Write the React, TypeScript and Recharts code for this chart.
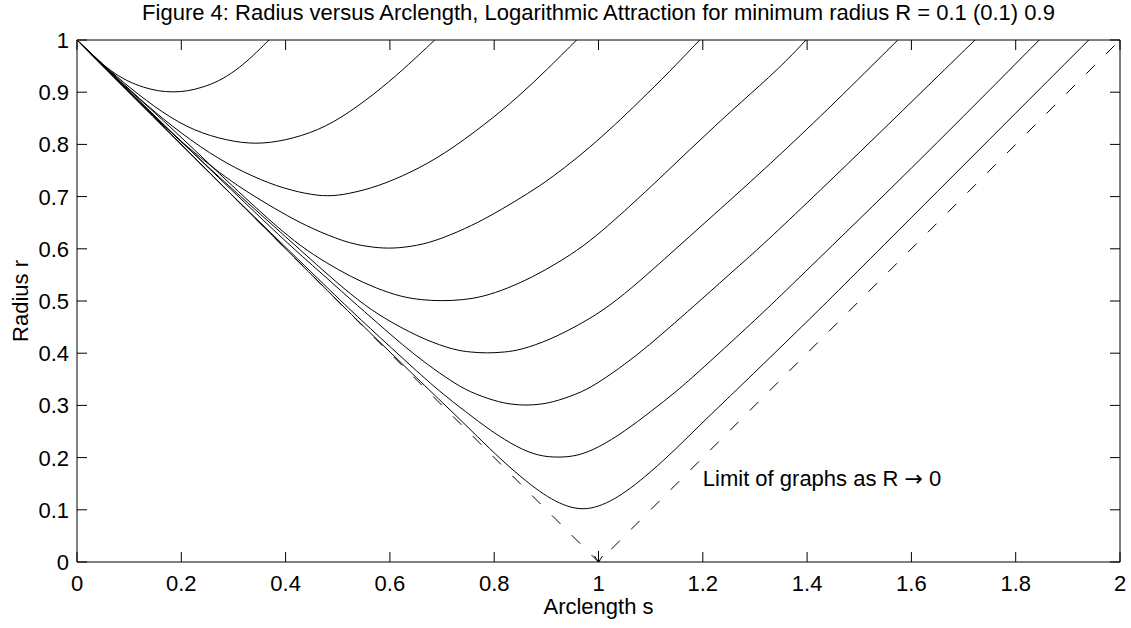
import { LineChart, Line, XAxis, YAxis, ReferenceDot, Label } from 'recharts';

const FONT = '"Liberation Sans", Arial, Helvetica, sans-serif';
const FONT_SIZE = 22;
const TICK_LEN = 10;

const TITLE = 'Figure 4: Radius versus Arclength, Logarithmic Attraction for minimum radius R = 0.1 (0.1) 0.9';
const X_LABEL = 'Arclength s';
const Y_LABEL = 'Radius r';
const NOTE_HEAD = 'Limit of graphs as R ';
const NOTE_ARROW = '\u2192';
const NOTE_TAIL = ' 0';

const X_TICKS = [0, 0.2, 0.4, 0.6, 0.8, 1, 1.2, 1.4, 1.6, 1.8, 2];
const Y_TICKS = [0, 0.1, 0.2, 0.3, 0.4, 0.5, 0.6, 0.7, 0.8, 0.9, 1];

// [arclength s, radius r], one list per minimum radius R
const CURVE_R09 = [
  [0, 1], [0.032, 0.968], [0.064, 0.941], [0.096, 0.921], [0.128, 0.909], [0.156, 0.902],
  [0.184, 0.9], [0.212, 0.902], [0.24, 0.909], [0.272, 0.921], [0.304, 0.941], [0.336, 0.968], [0.368, 1],
];
const CURVE_R08 = [
  [0, 1], [0.05, 0.953], [0.1, 0.909], [0.166, 0.859], [0.224, 0.826], [0.288, 0.807], [0.343, 0.8],
  [0.398, 0.807], [0.462, 0.826], [0.52, 0.859], [0.586, 0.909], [0.636, 0.953], [0.686, 1],
];
const CURVE_R07 = [
  [0, 1], [0.06, 0.943], [0.12, 0.887], [0.18, 0.836], [0.256, 0.781], [0.32, 0.746], [0.384, 0.719],
  [0.44, 0.705], [0.481, 0.7], [0.52, 0.705], [0.576, 0.719], [0.64, 0.746], [0.704, 0.781],
  [0.782, 0.838], [0.845, 0.89], [0.903, 0.945], [0.958, 1],
];
const CURVE_R06 = [
  [0, 1], [0.061, 0.938], [0.117, 0.883], [0.166, 0.836], [0.213, 0.794], [0.261, 0.755], [0.309, 0.72],
  [0.354, 0.692], [0.405, 0.662], [0.45, 0.639], [0.513, 0.613], [0.556, 0.604], [0.598, 0.6],
  [0.64, 0.604], [0.683, 0.613], [0.746, 0.639], [0.791, 0.662], [0.842, 0.692], [0.887, 0.72],
  [0.935, 0.755], [0.983, 0.794], [1.03, 0.836], [1.079, 0.883], [1.135, 0.938], [1.194, 1],
];
const CURVE_R05 = [
  [0, 1], [0.053, 0.946], [0.13, 0.878], [0.178, 0.834], [0.226, 0.789], [0.274, 0.743], [0.321, 0.699],
  [0.379, 0.646], [0.43, 0.604], [0.478, 0.573], [0.526, 0.546], [0.574, 0.524], [0.622, 0.508],
  [0.66, 0.502], [0.7, 0.5], [0.74, 0.502], [0.778, 0.508], [0.826, 0.524], [0.874, 0.546],
  [0.922, 0.573], [0.97, 0.604], [1.021, 0.646], [1.079, 0.699], [1.126, 0.743], [1.174, 0.789],
  [1.222, 0.834], [1.27, 0.878], [1.347, 0.946], [1.398, 1],
];
const CURVE_R04 = [
  [0, 1], [0.124, 0.877], [0.227, 0.779], [0.304, 0.709], [0.352, 0.666], [0.4, 0.623], [0.448, 0.58],
  [0.495, 0.538], [0.553, 0.49], [0.604, 0.458], [0.668, 0.425], [0.724, 0.406], [0.754, 0.402],
  [0.787, 0.4], [0.82, 0.402], [0.85, 0.406], [0.906, 0.425], [0.97, 0.458], [1.021, 0.49],
  [1.079, 0.538], [1.126, 0.58], [1.174, 0.623], [1.222, 0.666], [1.27, 0.709], [1.347, 0.779],
  [1.45, 0.877], [1.574, 1],
];
const CURVE_R03 = [
  [0, 1], [0.112, 0.891], [0.222, 0.784], [0.322, 0.688], [0.413, 0.602], [0.452, 0.568], [0.528, 0.5],
  [0.576, 0.458], [0.624, 0.416], [0.672, 0.378], [0.72, 0.345], [0.752, 0.326], [0.802, 0.308],
  [0.832, 0.302], [0.861, 0.3], [0.89, 0.302], [0.92, 0.308], [0.97, 0.326], [1.002, 0.345],
  [1.05, 0.378], [1.098, 0.416], [1.146, 0.458], [1.194, 0.5], [1.27, 0.568], [1.309, 0.602],
  [1.4, 0.688], [1.5, 0.784], [1.61, 0.891], [1.722, 1],
];
const CURVE_R02 = [
  [0, 1], [0.095, 0.904], [0.195, 0.804], [0.295, 0.705], [0.395, 0.608], [0.504, 0.502], [0.555, 0.454],
  [0.651, 0.366], [0.695, 0.327], [0.745, 0.288], [0.795, 0.25], [0.845, 0.219], [0.885, 0.203],
  [0.9225, 0.2], [0.96, 0.203], [1.0, 0.219], [1.05, 0.25], [1.1, 0.288], [1.15, 0.327], [1.194, 0.366],
  [1.29, 0.454], [1.341, 0.502], [1.45, 0.608], [1.55, 0.705], [1.65, 0.804], [1.75, 0.904], [1.845, 1],
];
const CURVE_R01 = [
  [0, 1], [0.09, 0.91], [0.19, 0.81], [0.29, 0.71], [0.39, 0.61], [0.5, 0.5], [0.554, 0.447],
  [0.65, 0.354], [0.7, 0.306], [0.746, 0.262], [0.79, 0.218], [0.84, 0.172], [0.88, 0.14],
  [0.91, 0.12], [0.94, 0.106], [0.97, 0.1], [1.0, 0.106], [1.03, 0.12], [1.06, 0.14], [1.1, 0.172],
  [1.15, 0.218], [1.194, 0.262], [1.24, 0.306], [1.29, 0.354], [1.386, 0.447], [1.44, 0.5],
  [1.55, 0.61], [1.65, 0.71], [1.75, 0.81], [1.85, 0.91], [1.94, 1],
];
// dashed limit R -> 0
const LIMIT_CURVE = [[0, 1], [1, 0], [2, 1]];
const ARROW_AT = [1, 0];
const NOTE_AT = [1.2, 0.16];

const CURVES = [CURVE_R01, CURVE_R02, CURVE_R03, CURVE_R04, CURVE_R05, CURVE_R06, CURVE_R07, CURVE_R08, CURVE_R09];

const rows = (pts: number[][]) => pts.map(([s, r]) => ({ s, r }));

const txt = { fontFamily: FONT, fontSize: FONT_SIZE, fill: '#000' };

const BottomTick = ({ x, y, payload }: any) => (
  <g>
    <line x1={x} y1={y} x2={x} y2={y - TICK_LEN} stroke="#000" />
    <text x={x} y={y + 29} textAnchor="middle" {...txt}>{payload.value}</text>
  </g>
);
const TopTick = ({ x, y }: any) => <line x1={x} y1={y} x2={x} y2={y + TICK_LEN} stroke="#000" />;
const LeftTick = ({ x, y, payload }: any) => (
  <g>
    <line x1={x} y1={y} x2={x + TICK_LEN} y2={y} stroke="#000" />
    <text x={x - 8} y={y + 8} textAnchor="end" {...txt}>{payload.value}</text>
  </g>
);
const RightTick = ({ x, y }: any) => <line x1={x} y1={y} x2={x - TICK_LEN} y2={y} stroke="#000" />;

const Arrow = ({ cx, cy }: any) => (
  <g stroke="#000" fill="none" strokeWidth={1}>
    <line x1={cx} y1={cy - 11} x2={cx} y2={cy} />
    <polyline points={`${cx - 4},${cy - 6} ${cx},${cy} ${cx + 4},${cy - 6}`} />
  </g>
);
const Note = ({ cx, cy }: any) => (
  <text x={cx} y={cy + 8} textAnchor="start" {...txt}>
    {NOTE_HEAD}
    <tspan fontFamily='"DejaVu Sans", sans-serif'>{NOTE_ARROW}</tspan>
    {NOTE_TAIL}
  </text>
);

export default function App() {
  return (
    <div style={{ position: 'absolute', left: 0, top: 0, width: 1131, height: 628, background: '#fff' }}>
      <LineChart width={1131} height={628} margin={{ top: 39, right: 10, bottom: 0, left: 0 }}>
        <XAxis
          xAxisId="bottom" type="number" dataKey="s" domain={[0, 2]} ticks={X_TICKS} interval={0}
          height={66} tickSize={0} tickMargin={0} tickLine={false} axisLine={{ stroke: '#000' }}
          tick={<BottomTick />} allowDataOverflow
        >
          <Label content={({ viewBox }: any) => (
            <text x={viewBox.x + viewBox.width / 2} y={viewBox.y + 52} textAnchor="middle" {...txt}>{X_LABEL}</text>
          )} />
        </XAxis>
        <XAxis
          xAxisId="top" orientation="top" type="number" dataKey="s" domain={[0, 2]} ticks={X_TICKS} interval={0}
          height={1} tickSize={0} tickMargin={0} tickLine={false} axisLine={{ stroke: '#000' }}
          tick={<TopTick />} allowDataOverflow
        >
          <Label content={({ viewBox }: any) => (
            <text x={viewBox.x + viewBox.width / 2} y={20} textAnchor="middle" {...txt}>{TITLE}</text>
          )} />
        </XAxis>
        <YAxis
          yAxisId="left" type="number" dataKey="r" domain={[0, 1]} ticks={Y_TICKS} interval={0}
          width={77} tickSize={0} tickMargin={0} tickLine={false} axisLine={{ stroke: '#000' }}
          tick={<LeftTick />} allowDataOverflow
        >
          <Label content={({ viewBox }: any) => {
            const cx = 28;
            const cy = viewBox.y + viewBox.height / 2;
            return (
              <text x={cx} y={cy} textAnchor="middle" transform={`rotate(-90, ${cx}, ${cy})`} {...txt}>{Y_LABEL}</text>
            );
          }} />
        </YAxis>
        <YAxis
          yAxisId="right" orientation="right" type="number" dataKey="r" domain={[0, 1]} ticks={Y_TICKS} interval={0}
          width={1} tickSize={0} tickMargin={0} tickLine={false} axisLine={{ stroke: '#000' }}
          tick={<RightTick />} allowDataOverflow
        />
        {CURVES.map((c, i) => (
          <Line
            key={`curve-${i}`} xAxisId="bottom" yAxisId="left" data={rows(c)} dataKey="r"
            type="basis" stroke="#000" strokeWidth={1} dot={false} activeDot={false}
            isAnimationActive={false}
          />
        ))}
        <Line
          xAxisId="bottom" yAxisId="left" data={rows(LIMIT_CURVE)} dataKey="r" type="linear"
          stroke="#000" strokeWidth={1} strokeDasharray="12 16" dot={false} activeDot={false}
          isAnimationActive={false}
        />
        {/* invisible series so the box axes (top / right) get drawn */}
        <Line
          xAxisId="top" yAxisId="right" data={rows(LIMIT_CURVE)} dataKey="r" type="linear"
          stroke="none" dot={false} activeDot={false} isAnimationActive={false}
        />
        <ReferenceDot xAxisId="bottom" yAxisId="left" x={ARROW_AT[0]} y={ARROW_AT[1]} r={0} shape={Arrow} />
        <ReferenceDot xAxisId="bottom" yAxisId="left" x={NOTE_AT[0]} y={NOTE_AT[1]} r={0} shape={Note} />
      </LineChart>
    </div>
  );
}
